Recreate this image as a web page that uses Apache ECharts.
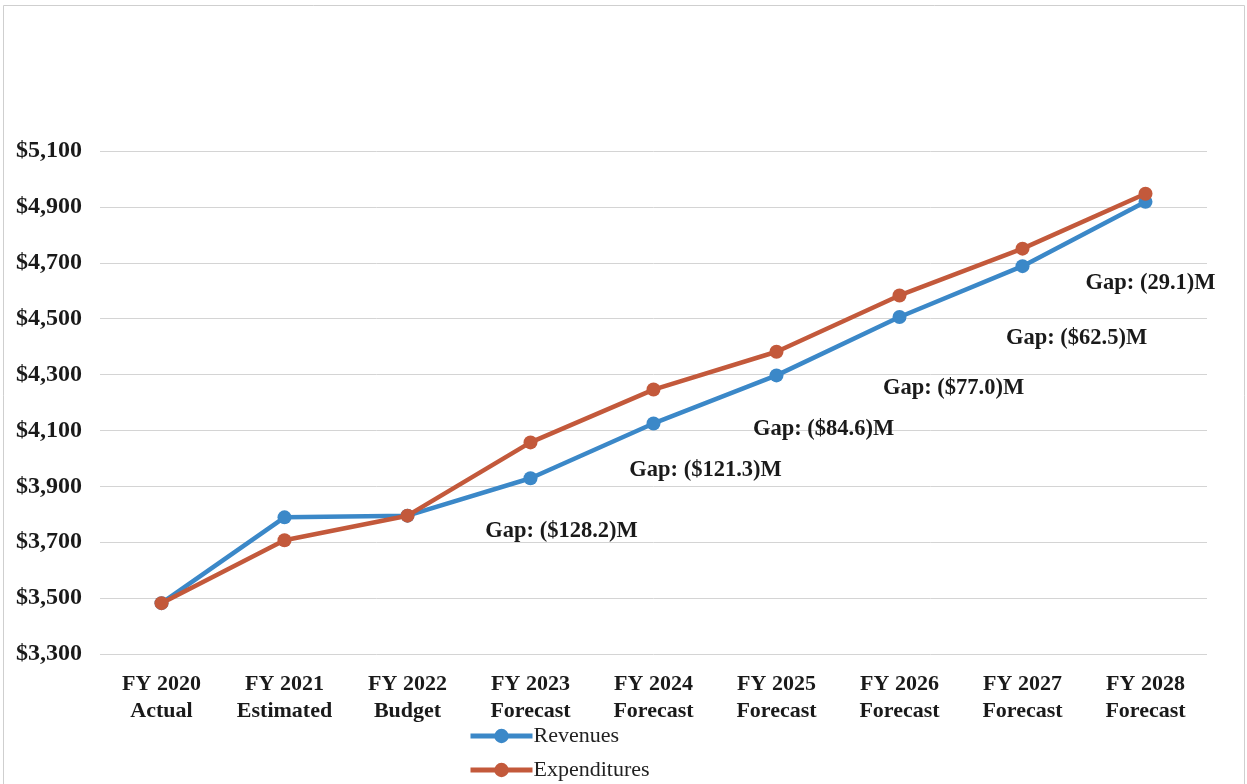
<!DOCTYPE html>
<html>
<head>
<meta charset="utf-8">
<title>Revenues vs Expenditures</title>
<script src="https://cdn.jsdelivr.net/npm/echarts@6/dist/echarts.min.js"></script>
<style>
  html, body { margin: 0; padding: 0; background: #ffffff; }
  #chart { width: 1247px; height: 784px; }
</style>
</head>
<body>
<div id="chart"></div>
<script>
// Fiscal years shown on the category axis
const categories = [
  'FY 2020\nActual', 'FY 2021\nEstimated', 'FY 2022\nBudget',
  'FY 2023\nForecast', 'FY 2024\nForecast', 'FY 2025\nForecast',
  'FY 2026\nForecast', 'FY 2027\nForecast', 'FY 2028\nForecast'
];

// Amounts in $ millions
const revenues     = [3482, 3789, 3795, 3929.0, 4125.0, 4297.0, 4506.0, 4688.0, 4918.0];
const expenditures = [3482, 3707, 3795, 4057.2, 4246.3, 4381.6, 4583.0, 4750.5, 4947.1];

// Gap annotations for the forecast years (null = no annotation)
const gapLabels = [
  null, null, null,
  'Gap: ($128.2)M', 'Gap: ($121.3)M', 'Gap: ($84.6)M',
  'Gap: ($77.0)M', 'Gap: ($62.5)M', 'Gap: (29.1)M'
];

// Y axis range and step
const yMin = 3300;
const yMax = 5100;
const yStep = 200;

const SERIF = '"Liberation Serif", "Times New Roman", serif';
const BLUE = '#3b88c8';
const RED = '#c3593b';
const TEXT = '#1a1a1a';

// Where each gap annotation sits relative to its revenue point (px)
const gapOffsets = [null, null, null, [31, 53], [52, 47], [47, 54], [54, 71], [54, 72], [5, 81]];

const revenueData = revenues.map((v, i) => {
  if (!gapLabels[i]) return v;
  return {
    value: v,
    label: {
      show: true,
      position: 'inside',
      offset: gapOffsets[i],
      formatter: gapLabels[i],
      fontFamily: SERIF,
      fontWeight: 'bold',
      fontSize: 22.5,
      color: TEXT
    }
  };
});

// One legend block per series so they stack as two rows
function legendRow(name, top) {
  return {
    orient: 'horizontal',
    left: 468,
    top: top,
    padding: 0,
    itemWidth: 62,
    itemHeight: 18,
    itemGap: 0,
    lineStyle: { width: 5 },
    textStyle: { fontFamily: SERIF, fontSize: 22, color: '#222222', padding: [0, 0, 0, -4] },
    data: [name]
  };
}

const chart = echarts.init(document.getElementById('chart'), null, { renderer: 'canvas' });

chart.setOption({
  backgroundColor: '#ffffff',
  animation: false,
  graphic: [{
    type: 'rect',
    shape: { x: 3.5, y: 5.5, width: 1241, height: 800 },
    style: { fill: 'none', stroke: '#cfcfcf', lineWidth: 1 },
    silent: true,
    z: -1
  }],
  grid: { left: 100, right: 40, top: 151, bottom: 130, containLabel: false },
  legend: [legendRow('Revenues', 725), legendRow('Expenditures', 759)],
  xAxis: {
    type: 'category',
    data: categories,
    boundaryGap: true,
    axisLine: { show: false },
    axisTick: { show: false },
    axisLabel: {
      margin: 17,
      fontFamily: SERIF,
      fontWeight: 'bold',
      fontSize: 22,
      lineHeight: 27,
      color: TEXT,
      interval: 0
    },
    splitLine: { show: false }
  },
  yAxis: {
    type: 'value',
    min: yMin,
    max: yMax,
    interval: yStep,
    axisLine: { show: false },
    axisTick: { show: false },
    axisLabel: {
      margin: 18,
      fontFamily: SERIF,
      fontWeight: 'bold',
      fontSize: 24,
      color: TEXT,
      formatter: v => '$' + v.toLocaleString('en-US')
    },
    splitLine: { show: true, lineStyle: { color: '#d4d4d4', width: 1 } }
  },
  series: [
    {
      name: 'Revenues',
      type: 'line',
      data: revenueData,
      symbol: 'circle',
      symbolSize: 14,
      lineStyle: { color: BLUE, width: 4.5 },
      itemStyle: { color: BLUE },
      z: 2
    },
    {
      name: 'Expenditures',
      type: 'line',
      data: expenditures,
      symbol: 'circle',
      symbolSize: 14,
      lineStyle: { color: RED, width: 4.5 },
      itemStyle: { color: RED },
      z: 3
    }
  ]
});
</script>
</body>
</html>
